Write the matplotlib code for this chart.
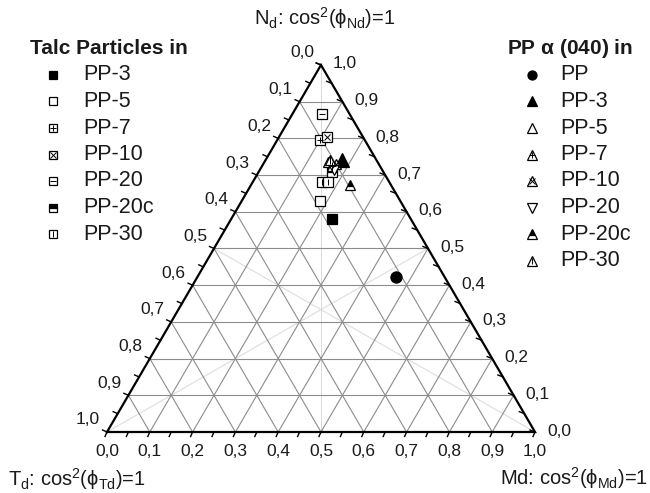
import matplotlib.pyplot as plt
import numpy as np

plt.rcParams['font.family'] = ['Liberation Sans', 'DejaVu Sans']
plt.rcParams['mathtext.default'] = 'regular'

# ternary compositions (Md, Nd); Td = 1 - Md - Nd
talc_names = ['PP-3', 'PP-5', 'PP-7', 'PP-10', 'PP-20', 'PP-20c', 'PP-30']
talc_md = [[0.236], [0.183], [0.100], [0.112], [0.069], [0.172], [0.162, 0.176]]
talc_nd = [[0.580], [0.629], [0.796], [0.804], [0.866], [0.708], [0.681, 0.681]]

pp_names = ['PP', 'PP-3', 'PP-5', 'PP-7', 'PP-10', 'PP-20', 'PP-20c', 'PP-30']
pp_md = [[0.464], [0.179], [0.148], [0.163], [0.170], [0.173], [0.231], [0.151]]
pp_nd = [[0.422], [0.741], [0.736], [0.725], [0.730], [0.714], [0.673], [0.741]]

tick_vals = np.round(np.arange(0, 1.01, 0.1), 1)
tick_labels = [('%.1f' % v).replace('.', ',') for v in tick_vals]

# marker styles: (base marker, fill, overlay)
talc_styles = [('s', 'full', None), ('s', 'none', None), ('s', 'none', '+'),
               ('s', 'none', 'x'), ('s', 'none', '_'), ('s', 'top', None),
               ('s', 'none', '|')]
pp_styles = [('o', 'full', None), ('^', 'full', None), ('^', 'none', None),
             ('^', 'none', '+'), ('^', 'none', 'x'), ('v', 'none', None),
             ('^', 'top', None), ('^', 'none', '|')]

H = np.sqrt(3) / 2
SX, SY = 428.0, 423.8  # pixels per data unit
TXT = '#1a1a1a'


def tern(md, nd):
    md = np.asarray(md, dtype=float)
    nd = np.asarray(nd, dtype=float)
    return md + nd / 2, nd * H


def draw_marker(ax, x, y, style, ms, transform=None):
    base, fill, over = style
    extra = {} if transform is None else {'transform': transform, 'clip_on': False}
    kw = dict(color='black', markeredgewidth=0.9, linestyle='none', zorder=5, **extra)
    if fill == 'full':
        ax.plot(x, y, marker=base, ms=ms, markerfacecolor='black', **kw)
    elif fill == 'none':
        ax.plot(x, y, marker=base, ms=ms, markerfacecolor='white', **kw)
    else:
        ax.plot(x, y, marker=base, ms=ms, fillstyle=fill,
                markerfacecolor='black', markerfacecoloralt='white', **kw)
    if over is not None:
        ax.plot(x, y, marker=over, ms=ms * 0.75, markeredgewidth=0.7,
                color='black', linestyle='none', zorder=6, **extra)


fig = plt.figure(figsize=(6.5, 4.93), dpi=100)
ax = fig.add_axes([0, 0, 1, 1])
ax.set_xlim(-107 / SX, 543 / SX)
ax.set_ylim(-61 / SY, 432 / SY)
ax.axis('off')

# grid
for k in range(1, 10):
    f = k / 10
    for a, b in [((0, f), (1 - f, f)), ((f, 0), (f, 1 - f)), ((1 - f, 0), (0, 1 - f))]:
        x, y = tern([a[0], b[0]], [a[1], b[1]])
        ax.plot(x, y, color='#8c8c8c', lw=0.8, zorder=1)

# medians
for a, b in [((0, 1), (0.5, 0)), ((0, 0), (0.5, 0.5)), ((1, 0), (0, 0.5))]:
    x, y = tern([a[0], b[0]], [a[1], b[1]])
    ax.plot(x, y, color='#d9d9d9', lw=0.7, zorder=0.9)

# frame
x, y = tern([0, 1, 0, 0], [0, 0, 1, 0])
ax.plot(x, y, color='black', lw=1.6, zorder=3, solid_joinstyle='miter')

# ticks every 0.05
L = 5
for v in np.arange(0, 1.001, 0.05):
    bx, by = tern(v, 0)
    ax.plot([bx, bx - 0.4 * L / SX], [by, by - 0.9 * L / SY], color='black', lw=1.0, zorder=3)
    lx, ly = tern(0, 1 - v)
    ax.plot([lx, lx - 0.9 * L / SX], [ly, ly + 0.4 * L / SY], color='black', lw=1.0, zorder=3)
    rx, ry = tern(1 - v, v)
    ax.plot([rx, rx - L / SX], [ry, ry + 0.4 * L / SY], color='black', lw=1.0, zorder=3)

# tick labels
for v, lab in zip(tick_vals, tick_labels):
    bx, by = tern(v, 0)
    ax.annotate(lab, (bx, by), xytext=(0, -19), textcoords='offset pixels',
                ha='center', va='center', fontsize=12.5, color=TXT)
    lx, ly = tern(0, 1 - v)
    ax.annotate(lab, (lx, ly), xytext=(-19, 12), textcoords='offset pixels',
                ha='center', va='center', fontsize=12.5, color=TXT)
    rx, ry = tern(1 - v, v)
    ax.annotate(lab, (rx, ry), xytext=(24, 1), textcoords='offset pixels',
                ha='center', va='center', fontsize=12.5, color=TXT)

# corner titles
fig.text(325 / 650, 1 - 18 / 493, r'N$_d$: cos$^2$($\mathregular{\phi}_{Nd}$)=1',
         ha='center', va='center', fontsize=14.5, color=TXT)
fig.text(8 / 650, 1 - 479 / 493, r'T$_d$: cos$^2$($\mathregular{\phi}_{Td}$)=1',
         ha='left', va='center', fontsize=14.5, color=TXT)
fig.text(648 / 650, 1 - 478 / 493, r'Md: cos$^2$($\mathregular{\phi}_{Md}$)=1',
         ha='right', va='center', fontsize=14.5, color=TXT)

# data
for md, nd, st in zip(talc_md, talc_nd, talc_styles):
    x, y = tern(md, nd)
    draw_marker(ax, x, y, st, 6.5)
for name, md, nd, st in zip(pp_names, pp_md, pp_nd, pp_styles):
    x, y = tern(md, nd)
    ms = 10 if name == 'PP-3' else (8 if name == 'PP' else 7)
    draw_marker(ax, x, y, st, ms)

# legends
ft = fig.transFigure
fig.text(30 / 650, 1 - 48 / 493, 'Talc Particles in', fontsize=15,
         fontweight='bold', ha='left', va='center', color=TXT)
for i, (name, st) in enumerate(zip(talc_names, talc_styles)):
    yy = 1 - (75 + i * 26.5) / 493
    draw_marker(ax, [53 / 650], [yy], st, 6, transform=ft)
    fig.text(83 / 650, yy, name, fontsize=15.5, ha='left', va='center', color=TXT)

fig.text(507 / 650, 1 - 48 / 493, r'PP $\mathregular{\alpha}$ (040) in', fontsize=15,
         fontweight='bold', ha='left', va='center', color=TXT)
for i, (name, st) in enumerate(zip(pp_names, pp_styles)):
    yy = 1 - (75 + i * 26.5) / 493
    draw_marker(ax, [532 / 650], [yy], st, 6.5, transform=ft)
    fig.text(560 / 650, yy, name, fontsize=15.5, ha='left', va='center', color=TXT)

fig.savefig('out.png', dpi=100)
